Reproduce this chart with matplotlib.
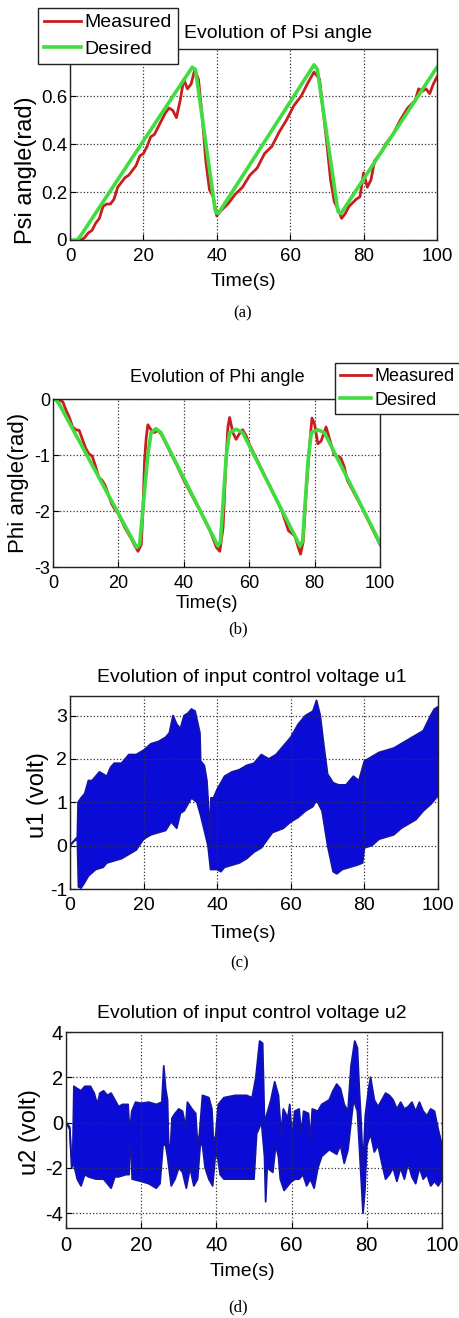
import numpy as np
import matplotlib
matplotlib.use("Agg")
import matplotlib.pyplot as plt

plt.rcParams['font.family'] = ['Liberation Sans Narrow', 'Liberation Sans', 'DejaVu Sans']

# ---- (a) Psi angle ----
psi_des_t = [0, 2, 3, 33.3, 34.2, 39.6, 40.4, 66.5, 67.4, 73.0, 73.8, 100]
psi_des = [0.0, 0.0, 0.02, 0.72, 0.71, 0.12, 0.11, 0.73, 0.71, 0.12, 0.11, 0.72]

psi_mea_t = [0, 2, 3, 4, 5, 6, 7, 8, 9, 10, 11, 12, 13, 14, 15, 16, 17, 18, 19, 20,
             21, 22, 23, 24, 25, 26, 27, 28, 29, 30, 31, 32, 33, 34, 35, 36, 37, 38,
             39, 40, 41, 43, 45, 47, 49, 51, 53, 55, 57, 59, 61, 63, 65, 66.5, 68,
             70, 71, 72, 73, 74, 75, 76, 78, 79, 80, 81, 82, 83, 84, 85, 86, 88, 90,
             92, 94, 95, 96, 97, 98, 99, 100]
psi_mea = [0.0, -0.005, 0.0, 0.01, 0.03, 0.04, 0.07, 0.09, 0.14, 0.15, 0.15, 0.17,
           0.22, 0.24, 0.26, 0.27, 0.29, 0.31, 0.35, 0.36, 0.39, 0.43, 0.44, 0.47,
           0.50, 0.53, 0.55, 0.54, 0.51, 0.58, 0.67, 0.63, 0.65, 0.71, 0.67, 0.52,
           0.33, 0.21, 0.18, 0.10, 0.12, 0.15, 0.19, 0.22, 0.27, 0.30, 0.36, 0.39,
           0.45, 0.50, 0.56, 0.60, 0.66, 0.70, 0.67, 0.40, 0.25, 0.16, 0.13, 0.09,
           0.11, 0.14, 0.17, 0.18, 0.28, 0.22, 0.25, 0.33, 0.35, 0.37, 0.40, 0.44,
           0.50, 0.55, 0.58, 0.63, 0.62, 0.63, 0.61, 0.65, 0.68]

# ---- (b) Phi angle ----
phi_des_t = [0, 1, 2, 25.6, 26.5, 29, 30, 31.5, 33, 50.4, 51.2, 53, 54, 56, 58,
             75.5, 76.3, 78, 79, 81, 83, 100]
phi_des = [0.0, -0.02, -0.1, -2.65, -2.6, -1.0, -0.6, -0.53, -0.6, -2.62, -2.55,
           -1.0, -0.6, -0.54, -0.6, -2.62, -2.55, -1.1, -0.6, -0.55, -0.6, -2.57]

phi_mea_t = [0, 1, 2, 3, 4, 5, 6, 7, 8, 9, 10, 11, 12, 13, 14, 15, 16, 17, 18, 19,
             20, 22, 24, 25, 26, 27, 27.5, 28, 28.5, 29, 30, 31, 32, 33, 35, 38, 40,
             45, 48, 50, 51, 52, 53, 53.5, 54, 55, 56, 57, 58, 59, 60, 65, 70, 72,
             74, 75, 75.7, 76.5, 77.5, 78.5, 79.2, 80, 81, 82, 83.5, 84.5, 86, 88,
             89, 90, 95, 100]
phi_mea = [0.0, 0.0, -0.02, -0.05, -0.2, -0.33, -0.5, -0.55, -0.56, -0.72, -0.88,
           -0.98, -1.02, -1.2, -1.4, -1.45, -1.55, -1.72, -1.88, -1.98, -2.05, -2.3,
           -2.5, -2.62, -2.72, -2.6, -2.0, -1.1, -0.7, -0.46, -0.55, -0.6, -0.56,
           -0.62, -0.85, -1.2, -1.45, -2.0, -2.35, -2.65, -2.72, -2.3, -1.0, -0.5,
           -0.33, -0.6, -0.72, -0.62, -0.55, -0.65, -0.8, -1.4, -2.0, -2.35, -2.45,
           -2.65, -2.77, -2.55, -1.6, -0.8, -0.34, -0.45, -0.8, -0.75, -0.5, -0.7,
           -1.0, -1.05, -1.2, -1.45, -2.0, -2.6]

# ---- (c) u1 envelope (upper / lower edge of the switching band) ----
u1_hi_t = [0, 1, 2, 2.2, 3, 4, 5, 6, 8, 10, 11, 12, 14, 16, 18, 20, 22, 24, 26, 27,
           28, 29, 30, 31, 32, 33, 34, 35.3, 35.5, 36.5, 37.2, 37.8, 38.1, 38.3, 39,
           40, 42, 44, 46, 48, 50, 52, 54, 56, 58, 60, 62, 64, 66, 67, 68, 69, 70,
           71.5, 73, 75, 77, 78.5, 80, 82, 84, 86, 88, 90, 92, 94, 96, 98, 99, 100]
u1_hi = [0.0, 0.1, 0.2, 1.0, 1.1, 1.2, 1.5, 1.5, 1.7, 1.6, 1.8, 1.9, 1.9, 2.1, 2.1,
         2.2, 2.35, 2.4, 2.5, 2.6, 3.0, 2.8, 2.7, 3.0, 3.05, 3.15, 3.1, 2.6, 1.95,
         1.85, 1.5, 0.7, 0.05, 1.1, 1.1, 1.3, 1.6, 1.7, 1.75, 1.85, 1.9, 2.1, 2.0,
         2.1, 2.3, 2.5, 2.8, 3.0, 3.1, 3.35, 3.0, 2.3, 1.65, 1.45, 1.4, 1.4, 1.6, 1.5,
         1.95, 2.05, 2.15, 2.2, 2.25, 2.35, 2.45, 2.55, 2.65, 3.0, 3.15, 3.2]
u1_lo_t = [0, 1, 2, 2.3, 3, 4, 5, 7, 9, 10, 12, 14, 16, 18, 20, 22, 24, 26, 27.5, 29,
           30, 31, 33, 34.5, 35.5, 36.5, 37.5, 38.2, 40, 41, 42, 44, 46, 48, 50, 52,
           55, 58, 60, 62, 64, 66, 67, 68.5, 70, 71.5, 72.5, 74, 76, 78, 79.5, 80,
           82, 84, 86, 88, 90, 92, 94, 96, 98, 100]
u1_lo = [0.0, 0.1, 0.15, -0.95, -0.98, -0.85, -0.7, -0.55, -0.5, -0.4, -0.35, -0.3,
         -0.2, -0.1, 0.15, 0.25, 0.3, 0.35, 0.55, 0.4, 0.75, 0.8, 1.1, 1.0, 0.7, 0.35,
         0.0, -0.55, -0.55, -0.6, -0.5, -0.45, -0.4, -0.3, -0.15, -0.05, 0.3, 0.4,
         0.55, 0.65, 0.8, 0.9, 1.05, 0.8, 0.0, -0.6, -0.65, -0.55, -0.5, -0.45, -0.4,
         -0.05, 0.0, 0.15, 0.2, 0.25, 0.4, 0.5, 0.6, 0.8, 0.95, 1.15]

# ---- (d) u2 envelope ----
u2_hi_t = [0, 1, 1.4, 1.8, 2.1, 3, 4, 5, 6.5, 7.5, 8, 8.5, 9, 10, 11, 12, 13, 14, 15,
           16.5, 16.8, 17.2, 17.5, 18.5, 20, 22, 24, 25.5, 26, 26.5, 27, 27.3, 27.8,
           28.2, 29, 30, 31, 31.8, 32.3, 33.5, 34.5, 35, 35.5, 36.3, 38, 38.8, 39.2,
           39.8, 40.5, 42, 45, 48, 49.5, 50.5, 51.5, 52.3, 52.8, 53.3, 54.5, 55.5,
           56.5, 57.2, 57.8, 59, 59.5, 60.2, 60.8, 62, 62.6, 63.2, 64.5, 65, 65.5,
           67, 68, 70, 71, 72, 73, 74, 75, 75.8, 76.8, 77.5, 78, 78.5, 79, 79.6,
           80.5, 81, 82, 83, 84, 85, 86, 87, 88, 89, 90, 91, 92, 93, 94, 95, 96, 97,
           98, 99, 100]
u2_hi = [0.0, -0.2, -1.5, -1.5, 1.6, 1.5, 1.4, 1.6, 1.6, 1.3, 1.0, 0.9, 1.3, 1.4, 1.2,
         1.3, 1.0, 0.7, 0.8, 0.8, 0.0, 0.0, 0.5, 0.9, 0.85, 0.9, 0.8, 0.9, 2.5, 1.5,
         1.0, -1.0, -1.0, 0.2, 0.4, 0.6, 0.5, -0.2, 0.9, 0.6, 0.4, -1.0, -0.5, 1.2,
         1.1, 0.6, -0.8, -0.6, 0.8, 1.1, 1.2, 1.2, 1.1, 2.0, 3.6, 3.5, 0.0, 0.3, 1.0,
         1.8, 1.2, -0.5, 0.6, 0.2, 0.8, -0.8, 0.5, 0.6, -0.5, 0.5, 0.4, -0.8, 0.6,
         0.5, 0.8, 1.0, 1.4, 1.7, 1.5, 0.8, 0.5, 2.5, 3.6, 3.3, 1.5, 0.0, -2.0, 0.3,
         1.5, 2.0, 1.0, 0.7, 1.0, 1.3, 1.2, 1.0, 0.6, 0.9, 0.6, 0.7, 0.9, 0.5, 0.9,
         0.5, 0.3, 0.6, 0.5, -0.3, -1.0]
u2_lo_t = [0, 1, 1.5, 2, 3, 4, 5, 6, 8, 10, 11, 12, 13, 14, 16, 16.8, 17, 17.3, 17.6,
           20, 22, 24, 25, 25.8, 26.5, 27, 28, 29, 30, 31, 32, 33, 34, 35, 35.7, 36.3,
           37, 38, 39, 39.7, 40.3, 41, 42, 46, 50, 50.7, 52, 52.8, 53.1, 53.5, 55,
           55.8, 56.5, 57, 58, 59, 60, 61, 62, 63, 64, 65, 66, 67, 68, 70, 72, 73, 74,
           75, 76, 76.5, 77.5, 78, 78.5, 79, 79.5, 80, 81, 82, 83, 84, 85, 86, 87, 88,
           89, 90, 91, 92, 93, 94, 95, 96, 97, 98, 99, 100]
u2_lo = [0.0, -0.3, -2.0, -1.8, -2.5, -2.8, -2.3, -2.4, -2.5, -2.5, -2.7, -2.9, -2.4,
         -2.4, -2.3, -2.3, -1.0, -1.0, -2.5, -2.6, -2.7, -2.9, -2.7, -1.0, -1.0, -1.5,
         -2.8, -2.5, -2.0, -2.2, -2.9, -2.0, -2.8, -2.5, -1.0, -1.0, -2.0, -2.5, -2.8,
         -1.5, -1.5, -2.3, -2.5, -2.5, -2.5, -0.5, 0.0, -1.5, -3.5, -2.0, -2.2, -1.0,
         -1.5, -2.5, -3.0, -2.8, -2.6, -2.5, -2.5, -2.3, -2.8, -2.5, -2.9, -2.0, -1.5,
         -1.2, -1.4, -1.0, -1.8, -1.2, 0.3, 1.0, 0.5, -1.0, -2.5, -4.0, -3.0, -1.0,
         -0.5, -1.3, -1.0, -1.8, -2.5, -2.3, -2.0, -2.6, -2.0, -2.5, -1.8, -2.4, -2.7,
         -2.0, -2.5, -2.3, -2.8, -2.6, -2.8, -2.5]

xticks = [0, 20, 40, 60, 80, 100]

W, H = 459.0, 1318.0
RED = '#c81e1e'
GREEN = '#40dc40'
BLUE = '#0b0bd8'
EDGE = '#1414a8'


def box(l, t, r, b):
    return [l / W, 1 - b / H, (r - l) / W, (b - t) / H]


def style(ax, yt, fs):
    ax.set_xlim(0, 100)
    ax.set_xticks(xticks)
    ax.set_xticklabels([str(v) for v in xticks])
    ax.set_yticks(yt)
    ax.set_yticklabels([('%g' % v) for v in yt])
    ax.tick_params(direction='in', length=4, labelsize=fs)
    ax.tick_params(axis='x', pad=6)
    ax.tick_params(axis='y', pad=2)
    ax.grid(True, linestyle=':', color='#333333', linewidth=0.9)
    for s in ax.spines.values():
        s.set_color('#222222')
        s.set_linewidth(1.0)


def ftext(x, y, s, **kw):
    fig.text(x / W, 1 - y / H, s, ha='center', va='center', **kw)


fig = plt.figure(figsize=(W / 100, H / 100), dpi=100)

# (a)
ax1 = fig.add_axes(box(70, 49, 437, 240))
l1, = ax1.plot(psi_mea_t, psi_mea, color=RED, lw=2.0)
l2, = ax1.plot(psi_des_t, psi_des, color=GREEN, lw=2.6)
ax1.set_ylim(0, 0.796)
style(ax1, [0, 0.2, 0.4, 0.6], 13.5)
ax1.legend([l1, l2], ['Measured', 'Desired'], loc='upper left',
           bbox_to_anchor=(38 / W, 1 - 8 / H), bbox_transform=fig.transFigure,
           borderaxespad=0, fancybox=False, edgecolor='#222222', framealpha=1,
           fontsize=14, handlelength=1.9, handletextpad=0.2, labelspacing=0.45,
           borderpad=0.3)
ftext(278, 33, 'Evolution of Psi angle', fontsize=14)
ftext(26, 170, 'Psi angle(rad)', fontsize=17, rotation=90)
ftext(243, 282, 'Time(s)', fontsize=14)
ftext(243, 313, '(a)', fontsize=12, family='Liberation Serif')

# (b)
ax2 = fig.add_axes(box(53, 399, 380, 567))
m1, = ax2.plot(phi_mea_t, phi_mea, color=RED, lw=2.0)
m2, = ax2.plot(phi_des_t, phi_des, color=GREEN, lw=2.6)
ax2.set_ylim(-3, 0)
style(ax2, [-3, -2, -1, 0], 13)
ax2.legend([m1, m2], ['Measured', 'Desired'], loc='upper left',
           bbox_to_anchor=(335 / W, 1 - 363 / H), bbox_transform=fig.transFigure,
           borderaxespad=0, fancybox=False, edgecolor='#222222', framealpha=1,
           fontsize=13, handlelength=1.7, handletextpad=0.2, labelspacing=0.35,
           borderpad=0.3)
ftext(217, 377, 'Evolution of Phi angle', fontsize=13)
ftext(19, 483, 'Phi angle(rad)', fontsize=16, rotation=90)
ftext(207, 603, 'Time(s)', fontsize=13.5)
ftext(238, 629, '(b)', fontsize=12, family='Liberation Serif')

# (c)
ax3 = fig.add_axes(box(70, 696, 438, 889))
ax3.fill(list(u1_hi_t) + list(u1_lo_t[::-1]), list(u1_hi) + list(u1_lo[::-1]),
         color=BLUE, lw=0)
ax3.plot(u1_hi_t, u1_hi, color=EDGE, lw=1.3)
ax3.plot(u1_lo_t, u1_lo, color=EDGE, lw=1.3)
ax3.set_ylim(-1, 3.45)
style(ax3, [-1, 0, 1, 2, 3], 14)
ftext(252, 677, 'Evolution of input control voltage u1', fontsize=14)
ftext(38, 795, 'u1 (volt)', fontsize=17, rotation=90)
ftext(243, 933, 'Time(s)', fontsize=14)
ftext(240, 963, '(c)', fontsize=12, family='Liberation Serif')

# (d)
ax4 = fig.add_axes(box(66, 1032, 442, 1228))
ax4.fill(list(u2_hi_t) + list(u2_lo_t[::-1]), list(u2_hi) + list(u2_lo[::-1]),
         color=BLUE, lw=0)
ax4.plot(u2_hi_t, u2_hi, color=EDGE, lw=1.3)
ax4.plot(u2_lo_t, u2_lo, color=EDGE, lw=1.3)
ax4.set_ylim(-4.66, 4)
style(ax4, [-4, -2, 0, 2, 4], 14.5)
ftext(252, 1013, 'Evolution of input control voltage u2', fontsize=14)
ftext(30, 1132, 'u2 (volt)', fontsize=17, rotation=90)
ftext(242, 1272, 'Time(s)', fontsize=14)
ftext(238, 1307, '(d)', fontsize=12, family='Liberation Serif')

fig.savefig('out.png', dpi=100)
